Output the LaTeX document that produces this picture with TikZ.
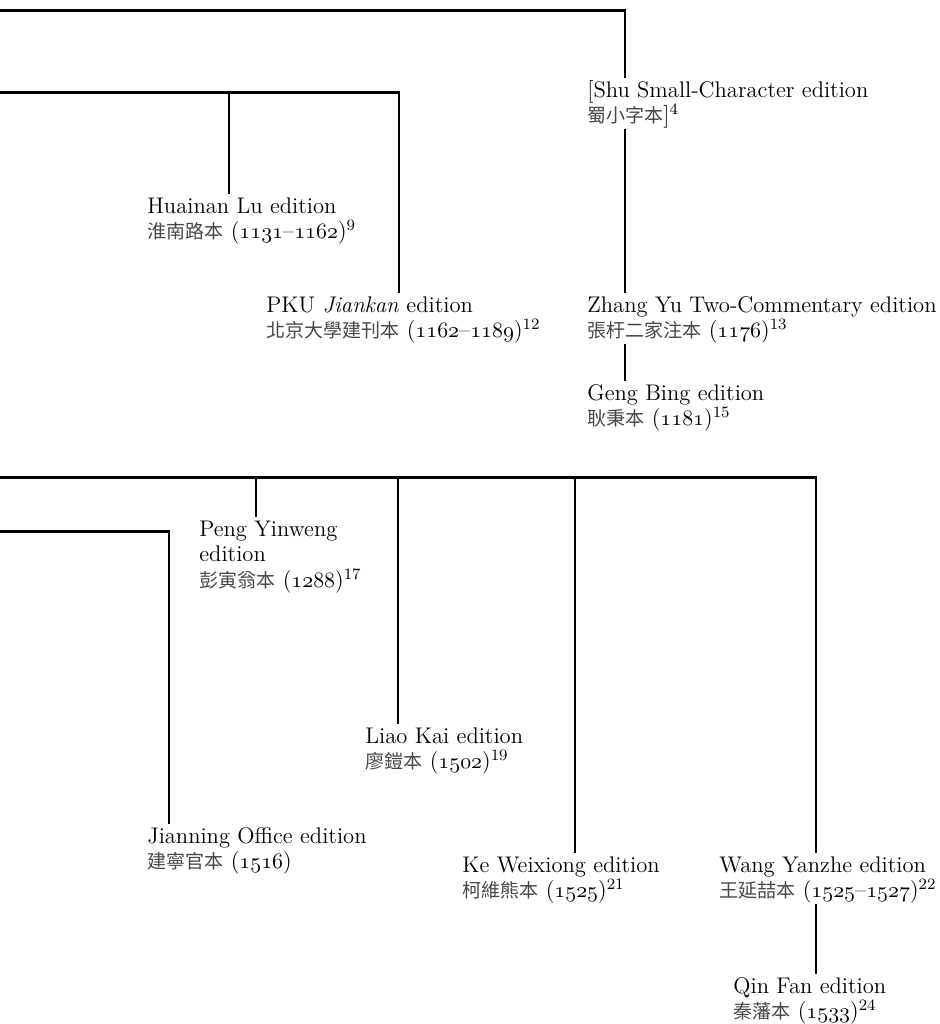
\documentclass[tikz,border=0pt]{standalone}
\usepackage{fontspec}
\usepackage{xcolor}
\usepackage{tikz}
\usetikzlibrary{calc}
\newfontfamily\cjk{Noto Sans CJK TC}
\newcommand\zh[1]{{\cjk\fontsize{9.5}{12.75}\selectfont\color{black!72}#1}}
\newcommand\osn[1]{{\usefont{OML}{cmm}{m}{it}#1}}
\newcommand\up{\rule{0pt}{9.5pt}}

\begin{document}
\begin{tikzpicture}[
    x=0.5pt, y=-0.5pt,
    ed/.style={anchor=north west, inner sep=0pt, align=left, font=\fontsize{11.3}{12.75}\selectfont},
    link/.style={line width=1.3pt}
]
\useasboundingbox (0,0) rectangle (940,1024);

% Song editions
\node[ed] (shu) at (587,78) {\up[Shu Small-Character edition\\\zh{蜀小字本}]\textsuperscript{4}};
\node[ed] (zhang) at (587,293) {\up Zhang Yu Two-Commentary edition\\\zh{張杅二家注本} (\osn{1176})\textsuperscript{13}};
\node[ed] (geng) at (587,381) {\up Geng Bing edition\\\zh{耿秉本} (\osn{1181})\textsuperscript{15}};
\node[ed] (huainan) at (147,194) {\up Huainan Lu edition\\\zh{淮南路本} (\osn{1131}–\osn{1162})\textsuperscript{9}};
\node[ed] (pku) at (266,293) {\up PKU \textit{Jiankan} edition\\\zh{北京大學建刊本} (\osn{1162}–\osn{1189})\textsuperscript{12}};

% Yuan and Ming editions
\node[ed] (peng) at (199,517) {\up Peng Yinweng\\edition\\\zh{彭寅翁本} (\osn{1288})\textsuperscript{17}};
\node[ed] (liao) at (365,724) {\up Liao Kai edition\\\zh{廖鎧本} (\osn{1502})\textsuperscript{19}};
\node[ed] (jianning) at (147,824) {\up Jianning Office edition\\\zh{建寧官本} (\osn{1516})};
\node[ed] (ke) at (462,853) {\up Ke Weixiong edition\\\zh{柯維熊本} (\osn{1525})\textsuperscript{21}};
\node[ed] (wang) at (719,853) {\up Wang Yanzhe edition\\\zh{王延喆本} (\osn{1525}–\osn{1527})\textsuperscript{22}};
\node[ed] (qin) at (733,974) {\up Qin Fan edition\\\zh{秦藩本} (\osn{1533})\textsuperscript{24}};

% Branches
\coordinate (r1) at (-5,10.7);
\coordinate (r2) at (-5,92.3);
\coordinate (r3) at (-5,477.3);
\coordinate (r4) at (-5,531.7);

\draw[link] (r1) -| ($(shu.north west)+(38,0)$);
\draw[link] ($(shu.south west)+(38,0)$) -- ($(zhang.north west)+(38,0)$);
\draw[link] ($(zhang.south west)+(38,0)$) -- ($(geng.north west)+(38,0)$);

\draw[link] (r2) -| ($(pku.north west)+(133,0)$);
\draw[link] ($(huainan.north west)+(82,0)$) |- (r2);

\draw[link] (r3) -| ($(wang.north west)+(97,0)$);
\draw[link] ($(peng.north west)+(57,0)$) |- (r3);
\draw[link] ($(liao.north west)+(33,0)$) |- (r3);
\draw[link] ($(ke.north west)+(113,0)$) |- (r3);
\draw[link] ($(wang.south west)+(97,0)$) -- ($(qin.north west)+(83,0)$);

\draw[link] (r4) -| ($(jianning.north west)+(22,0)$);

\end{tikzpicture}
\end{document}
